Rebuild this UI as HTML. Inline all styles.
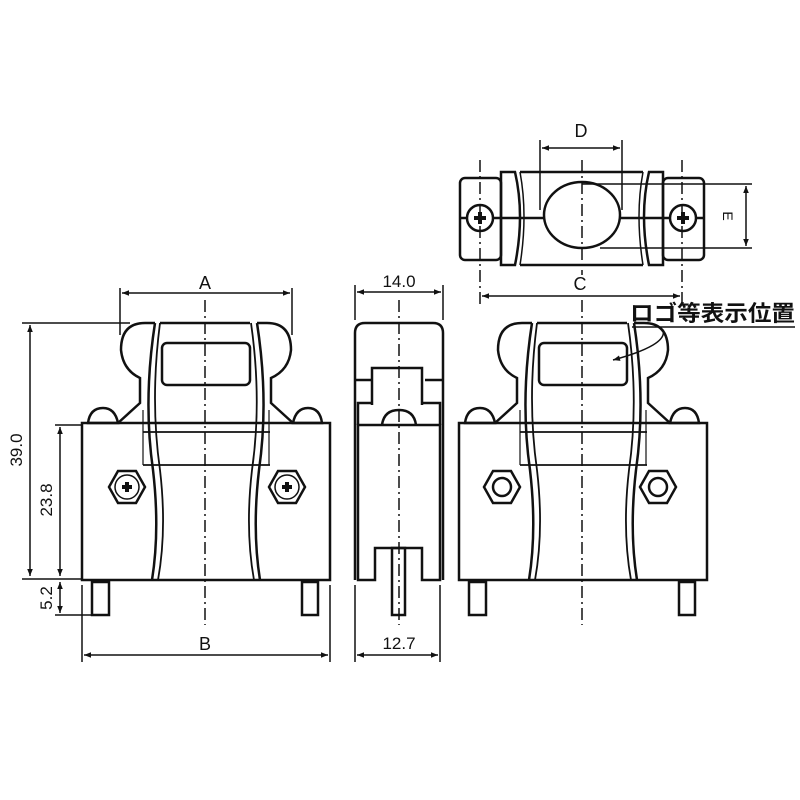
<!DOCTYPE html>
<html><head><meta charset="utf-8"><style>body{margin:0;background:#fff}svg{display:block}text{font-family:"Liberation Sans","Noto Sans CJK JP",sans-serif;fill:#111}</style></head><body>
<svg width="800" height="800" viewBox="0 0 800 800" xmlns="http://www.w3.org/2000/svg">
<defs>
<marker id="ar" viewBox="0 0 10 10" refX="10" refY="5" markerWidth="9" markerHeight="7" orient="auto-start-reverse" markerUnits="userSpaceOnUse"><path d="M0,1 L10,5 L0,9 Z" fill="#111"/></marker>
<g id="body">
<path d="M82,423 L82,580 L330,580 L330,423 Z" fill="none" stroke="#111" stroke-width="2.5"/>
<path d="M118,423 Q115,408 103,408 Q90,408 88,423 Z" fill="none" stroke="#111" stroke-width="2.5"/>
<path d="M322,423 Q320,408 308,408 Q296,408 293,423 Z" fill="none" stroke="#111" stroke-width="2.5"/>
<path d="M118,423 L140,403 L140,378 Q123,370 121,350 Q121,323 145,323 L155,323" fill="none" stroke="#111" stroke-width="2.5"/>
<path d="M293,423 L271,403 L271,378 Q289,370 291,350 Q291,323 267,323 L257,323" fill="none" stroke="#111" stroke-width="2.5"/>
<path d="M160,323 L250,323" stroke="#111" stroke-width="2.5"/>
<path d="M155,323 Q143,400 153,470 Q160,530 152,580" fill="none" stroke="#111" stroke-width="2.5"/>
<path d="M160,323 Q150,400 160,470 Q167,530 158,580" fill="none" stroke="#111" stroke-width="1.8"/>
<path d="M257,323 Q269,400 259,470 Q252,530 260,580" fill="none" stroke="#111" stroke-width="2.5"/>
<path d="M251,323 Q262,400 252,470 Q245,530 254,580" fill="none" stroke="#111" stroke-width="1.8"/>
<line x1="143" y1="432" x2="270" y2="432" stroke="#111" stroke-width="1.8"/>
<line x1="143" y1="465" x2="270" y2="465" stroke="#111" stroke-width="1.8"/>
<line x1="143" y1="410" x2="143" y2="465" stroke="#111" stroke-width="1.2"/>
<line x1="269" y1="410" x2="269" y2="465" stroke="#111" stroke-width="1.2"/>
<rect x="162" y="343" width="88" height="42" rx="5" fill="none" stroke="#111" stroke-width="2.5"/>
<rect x="92" y="582" width="17" height="33" fill="none" stroke="#111" stroke-width="2.5"/>
<rect x="302" y="582" width="16" height="33" fill="none" stroke="#111" stroke-width="2.5"/>
<line x1="205" y1="300" x2="205" y2="625" stroke="#111" stroke-width="1.5" stroke-dasharray="12,4,2,4"/>
</g>
<g id="hex"><polygon points="-18,0 -9,-16 9,-16 18,0 9,16 -9,16" fill="none" stroke="#111" stroke-width="2.5"/></g>
</defs>
<use href="#body"/>
<use href="#hex" x="127" y="487"/><circle cx="127" cy="487" r="12" fill="none" stroke="#111" stroke-width="1.5"/>
<path d="M122,487 h10 M127,482 v10" stroke="#111" stroke-width="4"/>
<use href="#hex" x="287" y="487"/><circle cx="287" cy="487" r="12" fill="none" stroke="#111" stroke-width="1.5"/>
<path d="M282,487 h10 M287,482 v10" stroke="#111" stroke-width="4"/>
<g stroke="#111" stroke-width="1.5" fill="none">
<line x1="120" y1="288" x2="120" y2="335"/><line x1="292" y1="288" x2="292" y2="335"/>
<line x1="122" y1="293" x2="290" y2="293" marker-start="url(#ar)" marker-end="url(#ar)"/>
<line x1="22" y1="323" x2="130" y2="323"/>
<line x1="30" y1="325" x2="30" y2="576" marker-start="url(#ar)" marker-end="url(#ar)"/>
<line x1="55" y1="425" x2="82" y2="425"/>
<line x1="60" y1="427" x2="60" y2="576" marker-start="url(#ar)" marker-end="url(#ar)"/>
<line x1="22" y1="579" x2="82" y2="579"/>
<line x1="60" y1="582" x2="60" y2="613" marker-start="url(#ar)" marker-end="url(#ar)"/>
<line x1="55" y1="615" x2="95" y2="615"/>
<line x1="82" y1="585" x2="82" y2="662"/><line x1="330" y1="585" x2="330" y2="662"/>
<line x1="84" y1="655" x2="328" y2="655" marker-start="url(#ar)" marker-end="url(#ar)"/>
</g>
<text x="205" y="289" font-size="18" text-anchor="middle">A</text>
<text x="205" y="650" font-size="18" text-anchor="middle">B</text>
<text transform="translate(22,450) rotate(-90)" font-size="17" text-anchor="middle">39.0</text>
<text transform="translate(52,500) rotate(-90)" font-size="17" text-anchor="middle">23.8</text>
<text transform="translate(52,598) rotate(-90)" font-size="17" text-anchor="middle">5.2</text>
<g stroke="#111" stroke-width="2.5" fill="none">
<path d="M355,580 L355,333 Q355,323 365,323 L433,323 Q443,323 443,333 L443,580"/>
<line x1="355" y1="380" x2="372" y2="380"/><line x1="425" y1="380" x2="443" y2="380"/>
<path d="M372,405 L372,368 L422,368 L422,405"/>
<path d="M358,425 L358,403 L372,403 M422,403 L440,403 L440,425"/>
<path d="M358,425 L440,425 L440,580 L422,580 L422,548 L375,548 L375,580 L358,580 Z"/>
<path d="M382,425 Q384,410 399,410 Q414,410 416,425"/>
<rect x="392" y="548" width="13" height="67"/>
</g>
<line x1="399" y1="300" x2="399" y2="625" stroke="#111" stroke-width="1.5" stroke-dasharray="12,4,2,4"/>
<g stroke="#111" stroke-width="1.5" fill="none">
<line x1="355" y1="285" x2="355" y2="320"/><line x1="443" y1="285" x2="443" y2="320"/>
<line x1="357" y1="292" x2="441" y2="292" marker-start="url(#ar)" marker-end="url(#ar)"/>
<line x1="355" y1="585" x2="355" y2="662"/><line x1="440" y1="585" x2="440" y2="662"/>
<line x1="357" y1="655" x2="438" y2="655" marker-start="url(#ar)" marker-end="url(#ar)"/>
</g>
<text x="399" y="287" font-size="17" text-anchor="middle">14.0</text>
<text x="399" y="649" font-size="17" text-anchor="middle">12.7</text>
<use href="#body" x="377"/>
<use href="#hex" x="502" y="487"/><circle cx="502" cy="487" r="9" fill="none" stroke="#111" stroke-width="2.5"/>
<use href="#hex" x="658" y="487"/><circle cx="658" cy="487" r="9" fill="none" stroke="#111" stroke-width="2.5"/>
<text x="630" y="321" font-size="22" font-weight="bold" textLength="165" lengthAdjust="spacingAndGlyphs">ロゴ等表示位置</text>
<line x1="632" y1="327" x2="795" y2="327" stroke="#111" stroke-width="1.5"/>
<path d="M663,330 Q668,345 613,360" fill="none" stroke="#111" stroke-width="1.5" marker-end="url(#ar)"/>
<g stroke="#111" stroke-width="2.5" fill="none">
<rect x="460" y="178" width="41" height="82" rx="5"/>
<rect x="663" y="178" width="41" height="82" rx="5"/>
<path d="M501,172 L515,172 Q525,215 515,265 L501,265 Z"/>
<path d="M663,172 L649,172 Q639,215 649,265 L663,265 Z"/>
<path d="M520,172 L643,172 M520,265 L643,265"/>
<path d="M520,172 Q528,215 520,265 M643,172 Q635,215 643,265" stroke-width="1.5"/>
<ellipse cx="582" cy="215" rx="38" ry="33"/>
<line x1="460" y1="218" x2="544" y2="218"/><line x1="620" y1="218" x2="704" y2="218"/>
<circle cx="480" cy="218" r="13" fill="#fff"/><circle cx="683" cy="218" r="13" fill="#fff"/>
<path d="M474,218 h12 M480,212 v12 M677,218 h12 M683,212 v12" stroke-width="4"/>
</g>
<g stroke="#111" stroke-width="1.5" fill="none">
<line x1="582" y1="160" x2="582" y2="275" stroke-dasharray="12,4,2,4"/>
<line x1="480" y1="160" x2="480" y2="305" stroke-dasharray="12,4,2,4"/>
<line x1="682" y1="160" x2="682" y2="305" stroke-dasharray="12,4,2,4"/>
<line x1="540" y1="140" x2="540" y2="210"/><line x1="622" y1="140" x2="622" y2="210"/>
<line x1="542" y1="148" x2="620" y2="148" marker-start="url(#ar)" marker-end="url(#ar)"/>
<line x1="582" y1="184" x2="752" y2="184"/><line x1="600" y1="248" x2="752" y2="248"/>
<line x1="746" y1="186" x2="746" y2="246" marker-start="url(#ar)" marker-end="url(#ar)"/>
<line x1="482" y1="296" x2="680" y2="296" marker-start="url(#ar)" marker-end="url(#ar)"/>
</g>
<text x="581" y="137" font-size="18" text-anchor="middle">D</text>
<text x="580" y="290" font-size="18" text-anchor="middle">C</text>
<text transform="translate(723,216) rotate(90)" font-size="14" text-anchor="middle">E</text>
</svg>
</body></html>
